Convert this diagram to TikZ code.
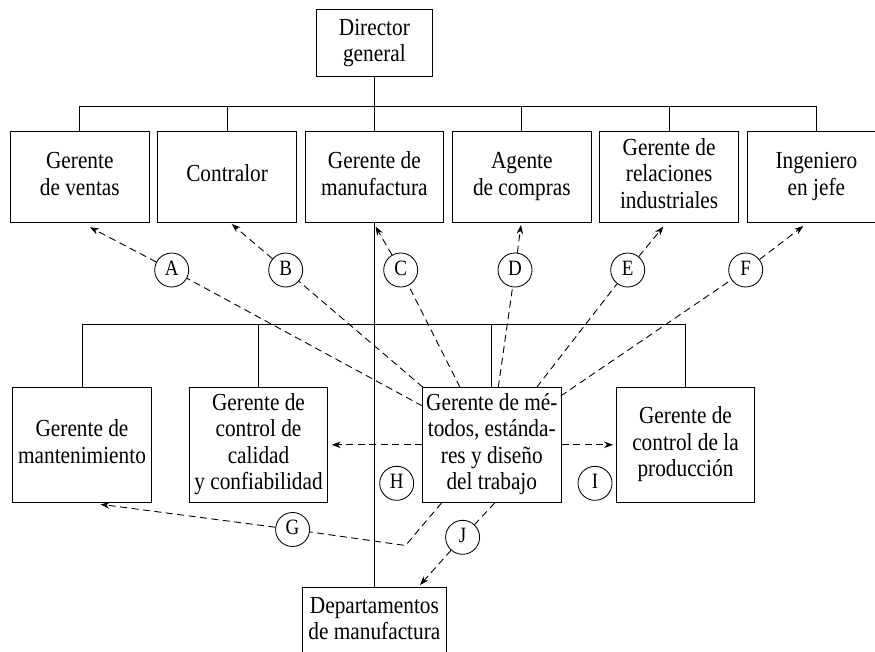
\documentclass[tikz,border=0pt]{standalone}
\usepackage{fontspec}
\setmainfont{Liberation Serif}
\usetikzlibrary{arrows.meta}
\newcommand\bt[1]{\scalebox{1}[1.15]{\begin{tabular}{@{}c@{}}#1\end{tabular}}}
\begin{document}
\begin{tikzpicture}[x=1pt,y=-1pt,
  box/.style={draw, line width=1pt, minimum width=138.5pt, inner sep=1pt,
    font=\fontsize{21.3}{23}\selectfont},
  topbox/.style={box, minimum height=91pt},
  lowbox/.style={box, minimum height=115pt},
  circ/.style={draw, circle, line width=0.85pt, minimum size=34pt, inner sep=0pt,
    font=\fontsize{19}{22}\selectfont},
  solid line/.style={line width=1pt},
  darr/.style={line width=0.9pt, dash pattern=on 7pt off 4.5pt,
    -{Stealth[length=9pt,width=6.5pt]}},
  dline/.style={line width=0.9pt, dash pattern=on 7pt off 4.5pt}]
\useasboundingbox (0,0) rectangle (875,651);
\clip (0,0) rectangle (875,651);

% top level
\node[box, minimum width=115.5pt, minimum height=67.4pt] (dir) at (374.4,43) {\bt{Director\\general}};
\node[topbox] (t1) at (79.8,176.6) {\bt{Gerente\\de ventas}};
\node[topbox] (t2) at (227.1,176.6) {\bt{Contralor}};
\node[topbox] (t3) at (374.4,176.6) {\bt{Gerente de\\manufactura}};
\node[topbox] (t4) at (521.8,176.6) {\bt{Agente\\de compras}};
\node[topbox] (t5) at (669.1,176.6) {\bt{Gerente de\\relaciones\\industriales}};
\node[topbox] (t6) at (816.4,176.6) {\bt{Ingeniero\\en jefe}};

% lower level
\node[lowbox] (m1) at (82,444.8) {\bt{Gerente de\\mantenimiento}};
\node[lowbox] (m2) at (258.5,444.8) {\bt{Gerente de\\control de\\calidad\\y confiabilidad}};
\node[lowbox] (met) at (491.8,444.8) {\bt{Gerente de mé-\\todos, estánda-\\res y diseño\\del trabajo}};
\node[lowbox] (m4) at (685.5,444.8) {\bt{Gerente de\\control de la\\producción}};
\node[box, minimum width=144pt, minimum height=68pt] (dep) at (374.4,621) {\bt{Departamentos\\de manufactura}};

% solid tree lines
\draw[solid line] (dir.south) -- (t3.north);
\draw[solid line] (t1.north) -- ++(0,-23.7) -| (t6.north);
\foreach \t in {t2,t4,t5} \draw[solid line] (\t.north) -- ++(0,-23.7);
\draw[solid line] (t3.south) -- (dep.north);
\draw[solid line] (m1.north) -- ++(0,-62.6) -| (m4.north);
\foreach \t in {m2,met} \draw[solid line] (\t.north) -- ++(0,-62.6);

% circles
\node[circ] (cA) at (171.7,270) {\bt{A}};
\node[circ] (cB) at (285.7,270) {\bt{B}};
\node[circ] (cC) at (400.7,270) {\bt{C}};
\node[circ] (cD) at (515,270) {\bt{D}};
\node[circ] (cE) at (627.7,270) {\bt{E}};
\node[circ] (cF) at (745.7,270) {\bt{F}};
\node[circ] (cG) at (292.6,529.5) {\bt{G}};
\node[circ] (cH) at (396.7,483.3) {\bt{H}};
\node[circ] (cI) at (595,483.3) {\bt{I}};
\node[circ] (cJ) at (462.6,537.3) {\bt{J}};

% connector end points
\coordinate (sA) at (422.5,406);
\coordinate (sB) at (423,387.3);
\coordinate (sC) at (460,387.3);
\coordinate (sD) at (498.3,387.3);
\coordinate (sE) at (536.7,387.3);
\coordinate (sF) at (560.7,396);
\coordinate (tA) at (90,227.3);
\coordinate (tB) at (231.7,224);
\coordinate (tC) at (375.5,226.5);
\coordinate (tD) at (521,225);
\coordinate (tE) at (663.3,226.7);
\coordinate (tF) at (803.3,226);
\coordinate (sG) at (441.5,503);
\coordinate (kG) at (405.5,545.5);
\coordinate (tG) at (100.4,504.3);
\coordinate (sJ) at (494.7,503);
\coordinate (tJ) at (420,585);

% dashed connectors
\foreach \l in {A,B,C,D,E,F} {
  \draw[dline] (s\l) -- (c\l);
  \draw[darr] (c\l) -- (t\l);
}
\draw[dline] (sG) -- (kG) -- (cG);
\draw[darr] (cG) -- (tG);
\draw[dline] (sJ) -- (cJ);
\draw[darr] (cJ) -- (tJ);
\draw[darr, shorten >=3.4pt] (met) -- (m2);
\draw[darr, shorten >=2.7pt] (met) -- (m4);
\end{tikzpicture}
\end{document}
